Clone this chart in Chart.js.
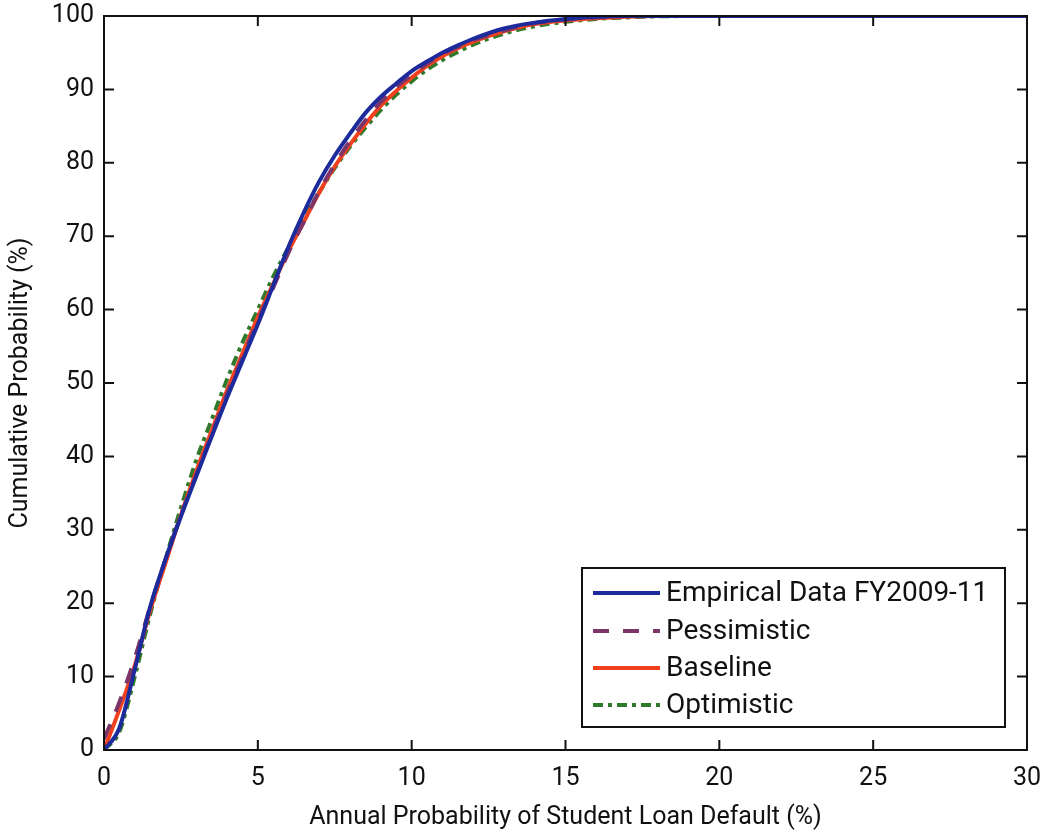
<!DOCTYPE html>
<html>
<head>
<meta charset="utf-8">
<script src="https://cdn.jsdelivr.net/npm/chart.js@4/dist/chart.umd.min.js"></script>
<style>
  html, body { margin: 0; padding: 0; background: #fff; }
  #wrap { width: 1046px; height: 835px; }
</style>
</head>
<body>
<div id="wrap"><canvas id="cdf"></canvas></div>
<script>
// default probability values (%)
const xVals = [0, 0.5, 1, 1.5, 2, 2.5, 3, 3.5, 4, 4.5, 5, 5.5, 6, 6.5, 7, 7.5, 8, 8.5, 9, 9.5,
               10, 10.5, 11, 11.5, 12, 13, 14, 15, 16, 17, 18, 20, 25, 30];

const empirical   = [0, 3, 11, 19.5, 26, 31.8, 37.3, 42.7, 48, 53, 58, 63.3, 68.6, 73.3, 77.5, 81, 84, 86.8, 89, 90.8,
                     92.5, 93.8, 95, 96, 96.9, 98.3, 99.1, 99.6, 99.9, 100, 100, 100, 100, 100];
const pessimistic = [1.5, 6.5, 12.5, 19.5, 26, 32, 37.5, 43, 48.5, 53.5, 58.5, 63, 67.8, 72, 76.2, 79.8, 83, 85.8, 88.3, 90.3,
                     92, 93.5, 94.8, 95.8, 96.7, 98, 99, 99.5, 99.8, 100, 100, 100, 100, 100];
const baseline    = [0, 5.5, 11.5, 19, 25.5, 32, 38, 43.5, 49, 54, 59, 63.5, 68, 72, 76, 79.5, 82.5, 85.3, 87.8, 89.8,
                     91.6, 93.2, 94.5, 95.6, 96.5, 97.9, 98.9, 99.4, 99.7, 99.9, 100, 100, 100, 100];
const optimistic  = [0, 2.5, 10, 18.5, 26, 33, 39.5, 45, 50.5, 55.5, 60, 64.5, 68.5, 72.5, 76, 79.3, 82.2, 84.8, 87.2, 89.3,
                     91.1, 92.7, 94, 95.1, 96.1, 97.6, 98.6, 99.2, 99.6, 99.8, 99.95, 100, 100, 100];

const xTicks = [0, 5, 10, 15, 20, 25, 30];
const yTicks = [0, 10, 20, 30, 40, 50, 60, 70, 80, 90, 100];

const FONT = 'Roboto, "Open Sans", sans-serif';

function pts(ys) {
    return xVals.map((x, i) => ({ x: x, y: ys[i] }));
}

function series(label, ys, color, dash) {
    return {
        label: label,
        data: pts(ys),
        borderColor: color,
        backgroundColor: color,
        borderWidth: 4,
        borderDash: dash,
        pointRadius: 0,
        cubicInterpolationMode: 'monotone',
        fill: false
    };
}

// frame with inward ticks on all four sides, like the matlab box
const framePlugin = {
    id: 'frame',
    afterDatasetsDraw(chart) {
        const ctx = chart.ctx;
        const a = chart.chartArea;
        const sx = chart.scales.x, sy = chart.scales.y;
        const len = 10;
        ctx.save();
        ctx.strokeStyle = '#111';
        ctx.lineWidth = 2;
        ctx.beginPath();
        xTicks.forEach(v => {
            const px = sx.getPixelForValue(v);
            ctx.moveTo(px, a.bottom); ctx.lineTo(px, a.bottom - len);
            ctx.moveTo(px, a.top); ctx.lineTo(px, a.top + len);
        });
        yTicks.forEach(v => {
            const py = sy.getPixelForValue(v);
            ctx.moveTo(a.left, py); ctx.lineTo(a.left + len, py);
            ctx.moveTo(a.right, py); ctx.lineTo(a.right - len, py);
        });
        ctx.stroke();
        ctx.strokeRect(a.left, a.top, a.right - a.left, a.bottom - a.top);
        ctx.restore();
    }
};

// legend box inside the lower right of the plot
const boxLegend = {
    id: 'boxLegend',
    afterDraw(chart) {
        const ctx = chart.ctx;
        const left = 582, top = 568, w = 423, h = 159;
        const rows = [593, 631, 668, 705];
        ctx.save();
        ctx.fillStyle = '#fff';
        ctx.fillRect(left, top, w, h);
        ctx.strokeStyle = '#111';
        ctx.lineWidth = 2;
        ctx.strokeRect(left, top, w, h);
        chart.data.datasets.forEach((ds, i) => {
            ctx.strokeStyle = ds.borderColor;
            ctx.lineWidth = 4;
            ctx.setLineDash(ds.borderDash || []);
            ctx.beginPath();
            ctx.moveTo(593, rows[i]);
            ctx.lineTo(660, rows[i]);
            ctx.stroke();
            ctx.setLineDash([]);
            ctx.fillStyle = '#111';
            ctx.font = '28px ' + FONT;
            ctx.textBaseline = 'middle';
            ctx.textAlign = 'left';
            ctx.fillText(ds.label, 666, rows[i] + 1);
        });
        ctx.restore();
    }
};

const datasets = [
    series('Empirical Data FY2009-11', empirical, '#1c2a9c', []),
    series('Pessimistic', pessimistic, '#7b3569', [16, 14]),
    series('Baseline', baseline, '#f2401f', []),
    series('Optimistic', optimistic, '#2f7a2a', [10, 5, 4, 5])
];

new Chart(document.getElementById('cdf'), {
    type: 'line',
    data: { datasets: datasets },
    options: {
        responsive: true,
        maintainAspectRatio: false,
        animation: false,
        layout: { padding: { left: 0, top: 16, right: 19, bottom: 0 } },
        plugins: {
            legend: { display: false },
            tooltip: { enabled: false }
        },
        scales: {
            x: {
                type: 'linear',
                min: 0,
                max: 30,
                afterFit: s => { s.height = 85; s.paddingLeft = 0; s.paddingRight = 0; },
                afterBuildTicks: s => { s.ticks = xTicks.map(v => ({ value: v })); },
                grid: { display: false, drawTicks: false },
                border: { display: false },
                ticks: { padding: 14, color: '#111', font: { family: FONT, size: 25 }, maxRotation: 0 },
                title: {
                    display: true,
                    text: 'Annual Probability of Student Loan Default (%)',
                    color: '#111',
                    font: { family: FONT, size: 25 },
                    padding: { top: 6, bottom: 2 }
                }
            },
            y: {
                type: 'linear',
                min: 0,
                max: 100,
                afterFit: s => { s.width = 104; s.paddingTop = 0; s.paddingBottom = 0; },
                afterBuildTicks: s => { s.ticks = yTicks.map(v => ({ value: v })); },
                grid: { display: false, drawTicks: false },
                border: { display: false },
                ticks: { padding: 10, color: '#111', font: { family: FONT, size: 25 } },
                title: {
                    display: true,
                    text: 'Cumulative Probability (%)',
                    color: '#111',
                    font: { family: FONT, size: 25 },
                    padding: { top: 6, bottom: 0 }
                }
            }
        }
    },
    plugins: [framePlugin, boxLegend]
});
</script>
</body>
</html>
